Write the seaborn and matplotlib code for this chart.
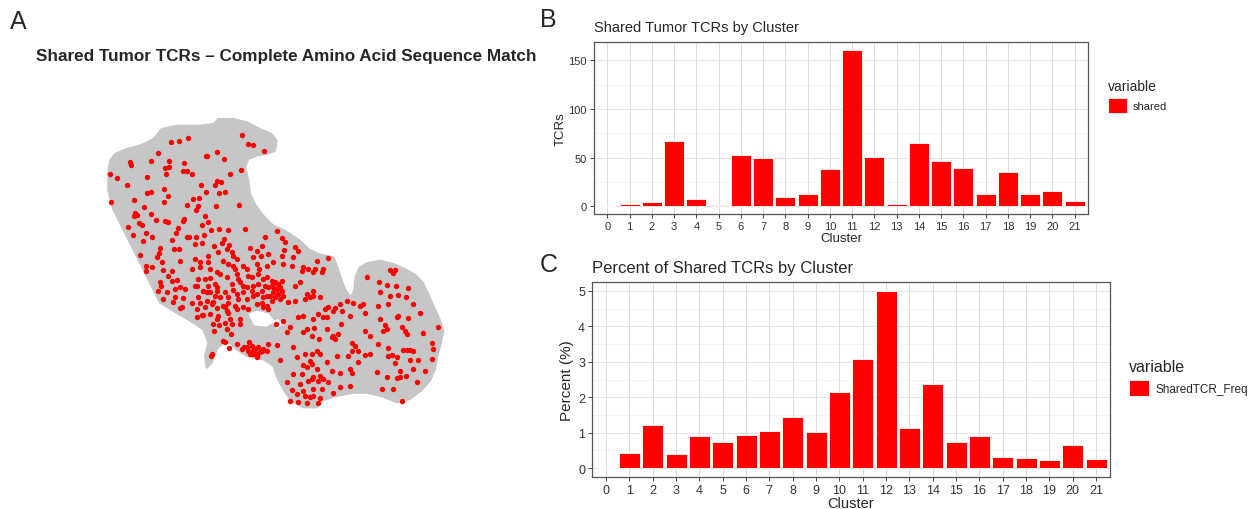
import matplotlib
matplotlib.use("Agg")
import matplotlib.pyplot as plt
import numpy as np
import pandas as pd
import seaborn as sns

# ---------------- data ----------------
clusters = [str(i) for i in range(22)]
shared_tcrs = [0, 2, 4, 67, 7, 1, 53, 50, 9, 13, 38, 161, 51, 2, 65, 46, 39, 12, 35, 13, 16, 5]
shared_pct = [0, 0.44, 1.23, 0.41, 0.90, 0.74, 0.94, 1.05, 1.45, 1.03, 2.15, 3.09, 5.01,
              1.13, 2.38, 0.74, 0.91, 0.32, 0.29, 0.22, 0.66, 0.27]

# outline of the grey UMAP cloud (all cells), UMAP units (y grows downward)
cloud_outline = [
    (25, 175), (30, 140), (45, 120), (80, 105), (120, 95), (160, 75), (185, 45), (230, 35),
    (300, 35), (340, 30), (355, 15), (400, 15), (440, 25), (480, 45), (515, 60), (530, 80),
    (525, 110), (500, 120), (470, 125), (445, 135), (435, 160), (445, 200), (450, 240),
    (465, 270), (485, 300), (520, 335), (545, 345), (570, 360), (600, 380), (625, 405),
    (655, 420), (700, 430), (712, 460), (722, 490), (735, 525), (752, 550), (763, 530),
    (766, 490), (778, 462), (800, 448), (840, 440), (880, 450), (915, 465), (945, 482),
    (968, 505), (985, 540), (1000, 575), (1018, 615), (1030, 650), (1022, 690), (1012, 725),
    (1005, 765), (990, 800), (965, 828), (930, 855), (890, 865), (850, 848), (800, 836),
    (760, 836), (710, 846), (670, 858), (650, 880), (610, 880), (570, 856), (550, 826),
    (530, 786), (520, 756), (490, 736), (440, 726), (410, 706), (390, 686), (370, 686),
    (350, 706), (335, 746), (320, 762), (315, 726), (325, 686), (310, 646), (280, 626),
    (230, 596), (180, 566), (160, 526), (140, 486), (120, 446), (100, 406), (70, 346),
    (40, 286), (25, 230)]
cloud_holes = [
    [(445, 600), (470, 590), (505, 598), (525, 622), (500, 638), (462, 634)],
    [(515, 622), (535, 615), (548, 630), (530, 645)],
]

# cells carrying shared tumour TCRs
shared_cells = [
    (212, 83), (238, 81), (263, 71), (425, 63), (443, 91), (459, 94), (492, 110), (173, 117),
    (317, 125), (322, 125), (350, 115), (90, 143), (93, 152), (152, 142), (208, 142),
    (251, 146), (371, 136), (195, 161), (208, 160), (249, 172), (262, 171), (275, 180),
    (199, 181), (422, 168), (30, 180), (52, 191), (142, 190), (391, 180), (350, 202),
    (362, 205), (345, 212), (302, 214), (82, 214), (192, 226), (140, 236), (154, 235),
    (319, 234), (357, 237), (374, 235), (205, 247), (103, 257), (279, 254), (298, 252),
    (193, 263), (260, 272), (294, 276), (348, 277), (417, 272), (34, 265), (132, 279),
    (287, 289), (106, 297), (110, 303), (101, 306), (153, 300), (315, 305), (253, 315),
    (250, 320), (196, 320), (204, 325), (167, 318), (325, 324), (116, 327), (127, 333),
    (235, 342), (305, 332), (85, 338), (436, 345), (530, 352), (228, 358), (332, 349),
    (356, 345), (383, 349), (100, 363), (139, 356), (157, 368), (215, 377), (262, 370),
    (266, 370), (287, 370), (311, 362), (373, 375), (495, 368), (130, 380), (286, 389),
    (307, 388), (342, 397), (365, 386), (388, 393), (382, 405), (180, 403), (221, 405),
    (238, 405), (450, 402), (485, 397), (472, 410), (177, 418), (355, 413), (397, 414),
    (547, 371), (555, 383), (552, 408), (585, 400), (593, 410),
    (120, 423), (172, 430), (185, 445), (240, 440), (285, 435), (300, 445), (325, 425),
    (325, 445), (370, 440), (400, 425), (412, 435), (460, 430), (482, 425), (505, 420),
    (138, 455), (155, 460), (188, 467), (215, 470), (275, 465), (300, 460), (330, 465),
    (350, 475), (385, 450), (400, 455), (405, 465), (430, 455), (440, 465), (470, 450),
    (478, 465), (500, 455), (137, 470), (205, 485), (232, 498), (295, 495), (315, 495),
    (330, 492), (360, 480), (380, 490), (410, 480), (415, 495), (445, 485), (455, 490),
    (475, 480), (490, 495), (500, 490), (180, 505), (183, 515), (215, 502), (240, 520),
    (255, 525), (285, 517), (290, 517), (310, 530), (325, 515), (345, 510), (350, 520),
    (395, 510), (420, 505), (430, 515), (440, 520), (460, 515), (475, 510), (495, 515),
    (505, 520), (175, 532), (200, 533), (225, 525), (320, 535), (330, 535), (350, 530),
    (375, 535), (400, 528), (430, 535), (455, 532), (470, 540), (485, 530), (190, 555),
    (225, 550), (250, 553), (295, 550), (320, 560), (345, 545), (360, 548), (385, 550),
    (410, 540), (415, 555), (440, 555), (460, 545), (490, 550), (500, 545), (220, 565),
    (245, 580), (275, 568), (300, 568), (335, 570), (340, 565), (370, 575), (375, 580),
    (385, 568), (405, 575), (430, 580), (470, 570), (485, 568), (500, 575), (240, 582),
    (290, 585), (315, 580), (350, 582), (380, 590), (410, 585), (445, 585), (490, 580),
    (505, 585), (305, 603), (310, 603), (290, 608), (330, 600), (355, 605), (385, 598),
    (420, 615), (390, 615), (340, 630), (357, 632), (375, 627), (352, 615), (395, 630),
    (420, 630), (343, 650), (380, 645), (392, 660), (370, 680), (375, 685), (386, 702),
    (412, 690), (425, 705), (432, 700), (447, 685), (460, 710), (470, 720), (458, 720),
    (480, 715), (490, 705), (470, 730), (445, 710), (335, 720), (332, 725), (505, 690),
    (500, 710), (440, 700), (455, 695), (465, 705), (475, 700), (485, 712), (450, 720),
    (515, 500), (525, 505), (535, 510), (545, 500), (515, 515), (530, 525), (545, 530),
    (520, 535), (535, 540), (550, 545), (510, 545), (525, 550), (540, 555), (515, 560),
    (545, 425), (580, 428), (650, 440), (685, 433), (520, 445), (550, 450), (575, 455),
    (610, 460), (625, 465), (645, 465), (665, 475), (670, 465), (605, 470), (640, 475),
    (870, 468), (885, 468), (878, 477), (800, 488), (838, 505), (860, 512), (888, 515),
    (925, 523), (600, 505), (585, 515), (540, 520), (520, 520), (640, 530), (620, 540),
    (640, 545), (660, 550), (840, 535), (870, 545), (895, 542), (918, 550), (565, 565),
    (585, 560), (615, 555), (630, 550), (760, 568), (780, 575), (790, 570), (835, 575),
    (865, 570), (940, 570), (685, 580), (705, 582), (720, 570), (740, 562), (675, 585),
    (655, 600), (670, 610), (640, 615), (680, 608), (700, 590), (725, 590), (750, 605),
    (795, 598), (895, 605), (890, 610), (960, 598), (925, 612), (608, 605), (595, 610),
    (550, 620), (528, 630), (570, 640), (610, 655), (620, 645), (642, 642), (680, 645),
    (722, 630), (840, 615), (855, 632), (850, 650), (860, 645), (905, 640), (915, 650),
    (920, 660), (970, 657), (1015, 640), (795, 650), (810, 665), (560, 655), (700, 665),
    (705, 675), (695, 670), (715, 660), (635, 665), (835, 690), (755, 688), (765, 695),
    (530, 692), (580, 700), (658, 675), (995, 688), (775, 710), (755, 710), (865, 703),
    (910, 708), (920, 708), (930, 708), (940, 710), (1000, 705), (615, 720), (635, 720),
    (650, 710), (660, 720), (710, 725), (745, 725), (795, 722), (810, 720), (865, 725),
    (875, 722), (890, 730), (930, 738), (540, 738), (590, 730), (630, 740), (680, 745),
    (775, 745), (885, 748), (955, 738), (995, 735), (610, 753), (620, 758), (650, 765),
    (635, 750), (695, 770), (720, 777), (750, 765), (755, 777), (830, 775), (900, 770),
    (918, 785), (940, 765), (975, 772), (580, 780), (605, 780), (640, 790), (660, 785),
    (635, 795), (670, 795), (860, 790), (890, 792), (900, 790), (560, 805), (600, 810),
    (625, 800), (655, 800), (685, 805), (950, 805), (720, 818), (750, 815), (845, 825),
    (880, 825), (575, 828), (610, 830), (640, 825), (665, 825), (700, 838), (590, 840),
    (615, 845), (630, 848), (640, 845), (660, 852), (905, 860), (570, 860), (595, 865),
    (620, 866), (655, 866)]

# ---------------- style ----------------
sns.set_theme(style="white")
plt.rcParams["font.family"] = ["Liberation Sans", "DejaVu Sans"]

W, H = 1248, 510
fig = plt.figure(figsize=(W / 100, H / 100), dpi=100)
fig.patch.set_facecolor("white")


def rect(left, top, right, bottom):
    return [left / W, 1 - bottom / H, (right - left) / W, (bottom - top) / H]


# ---------------- panel A ----------------
axA = fig.add_axes(rect(100, 115, 450, 415))
cx, cy = zip(*cloud_outline)
axA.fill(cx, cy, color="#c6c6c6", lw=1.5, ec="#c6c6c6", zorder=1)
for hole in cloud_holes:
    hx, hy = zip(*hole)
    axA.fill(hx, hy, color="white", lw=0, zorder=2)
cells = pd.DataFrame(shared_cells, columns=["UMAP_1", "UMAP_2"])
sns.scatterplot(data=cells, x="UMAP_1", y="UMAP_2", color="#ff0000", s=15,
                linewidth=0, ax=axA, zorder=3)
axA.set_xlim(0, 1050)
axA.set_ylim(900, 0)
axA.axis("off")

fig.text(10 / W, 1 - 22 / H, "A", fontsize=18, va="center", ha="left")
fig.text(286 / W, 1 - 56 / H, "Shared Tumor TCRs \u2013 Complete Amino Acid Sequence Match",
         fontsize=12.3, fontweight="bold", ha="center", va="center")


def style_bar_axes(ax, minor_vals, tick_fs):
    ax.set_facecolor("white")
    for s in ax.spines.values():
        s.set_color("#555555")
        s.set_linewidth(0.9)
        s.set_visible(True)
    ax.grid(False)
    ax.set_axisbelow(True)
    for v in minor_vals:
        ax.axhline(v, color="#f2f2f2", lw=0.5, zorder=0)
    for v in ax.get_yticks():
        ax.axhline(v, color="#e4e4e4", lw=0.8, zorder=0)
    for i in range(len(clusters)):
        ax.axvline(i, color="#dadada", lw=0.7, zorder=0)
    ax.tick_params(axis="both", which="major", length=3, width=0.7, color="#444444",
                   labelsize=tick_fs, labelcolor="#333333", pad=2, bottom=True, left=True)


# ---------------- panel B ----------------
axB = fig.add_axes(rect(594, 42.7, 1088, 215))
dfB = pd.DataFrame({"Cluster": clusters, "value": shared_tcrs, "variable": "shared"})
sns.barplot(data=dfB, x="Cluster", y="value", hue="variable", order=clusters,
            palette={"shared": "#ff0000"}, saturation=1, width=0.9, edgecolor="white",
            linewidth=0.6, ax=axB, zorder=2)
axB.set_xlim(-0.6, 21.6)
axB.set_ylim(-8.05, 169.05)
axB.set_yticks([0, 50, 100, 150])
style_bar_axes(axB, [25, 75, 125], 8)
axB.set_xlabel("Cluster", fontsize=9.5, labelpad=1)
axB.set_ylabel("TCRs", fontsize=9.5, labelpad=1)
axB.set_title("Shared Tumor TCRs by Cluster", loc="left", fontsize=10.5, pad=8)
sns.move_legend(axB, "upper left", bbox_to_anchor=(1100 / W, 1 - 72 / H),
                bbox_transform=fig.transFigure, frameon=False, title="variable",
                fontsize=8, title_fontsize=10, handlelength=1.75, handleheight=1.7,
                handletextpad=0.5, borderpad=0.2)
axB.get_legend()._legend_box.align = "left"
fig.text(540 / W, 1 - 20 / H, "B", fontsize=18, va="center", ha="left")

# ---------------- panel C ----------------
axC = fig.add_axes(rect(592, 282.7, 1110, 478))
dfC = pd.DataFrame({"Cluster": clusters, "value": shared_pct, "variable": "SharedTCR_Freq"})
sns.barplot(data=dfC, x="Cluster", y="value", hue="variable", order=clusters,
            palette={"SharedTCR_Freq": "#ff0000"}, saturation=1, width=0.9,
            edgecolor="white", linewidth=0.6, ax=axC, zorder=2)
axC.set_xlim(-0.6, 21.6)
axC.set_ylim(-0.2505, 5.2605)
axC.set_yticks([0, 1, 2, 3, 4, 5])
style_bar_axes(axC, [0.5, 1.5, 2.5, 3.5, 4.5], 9)
axC.set_xlabel("Cluster", fontsize=10.5, labelpad=0)
axC.set_ylabel("Percent (%)", fontsize=11, labelpad=3)
axC.set_title("Percent of Shared TCRs by Cluster", loc="left", fontsize=12, pad=7)
sns.move_legend(axC, "upper left", bbox_to_anchor=(1121 / W, 1 - 352 / H),
                bbox_transform=fig.transFigure, frameon=False, title="variable",
                fontsize=8.5, title_fontsize=11.5, handlelength=1.7, handleheight=1.7,
                handletextpad=0.5, borderpad=0.2)
axC.get_legend()._legend_box.align = "left"
fig.text(540 / W, 1 - 265 / H, "C", fontsize=18, va="center", ha="left")

fig.savefig("out.png", dpi=100, facecolor="white")
